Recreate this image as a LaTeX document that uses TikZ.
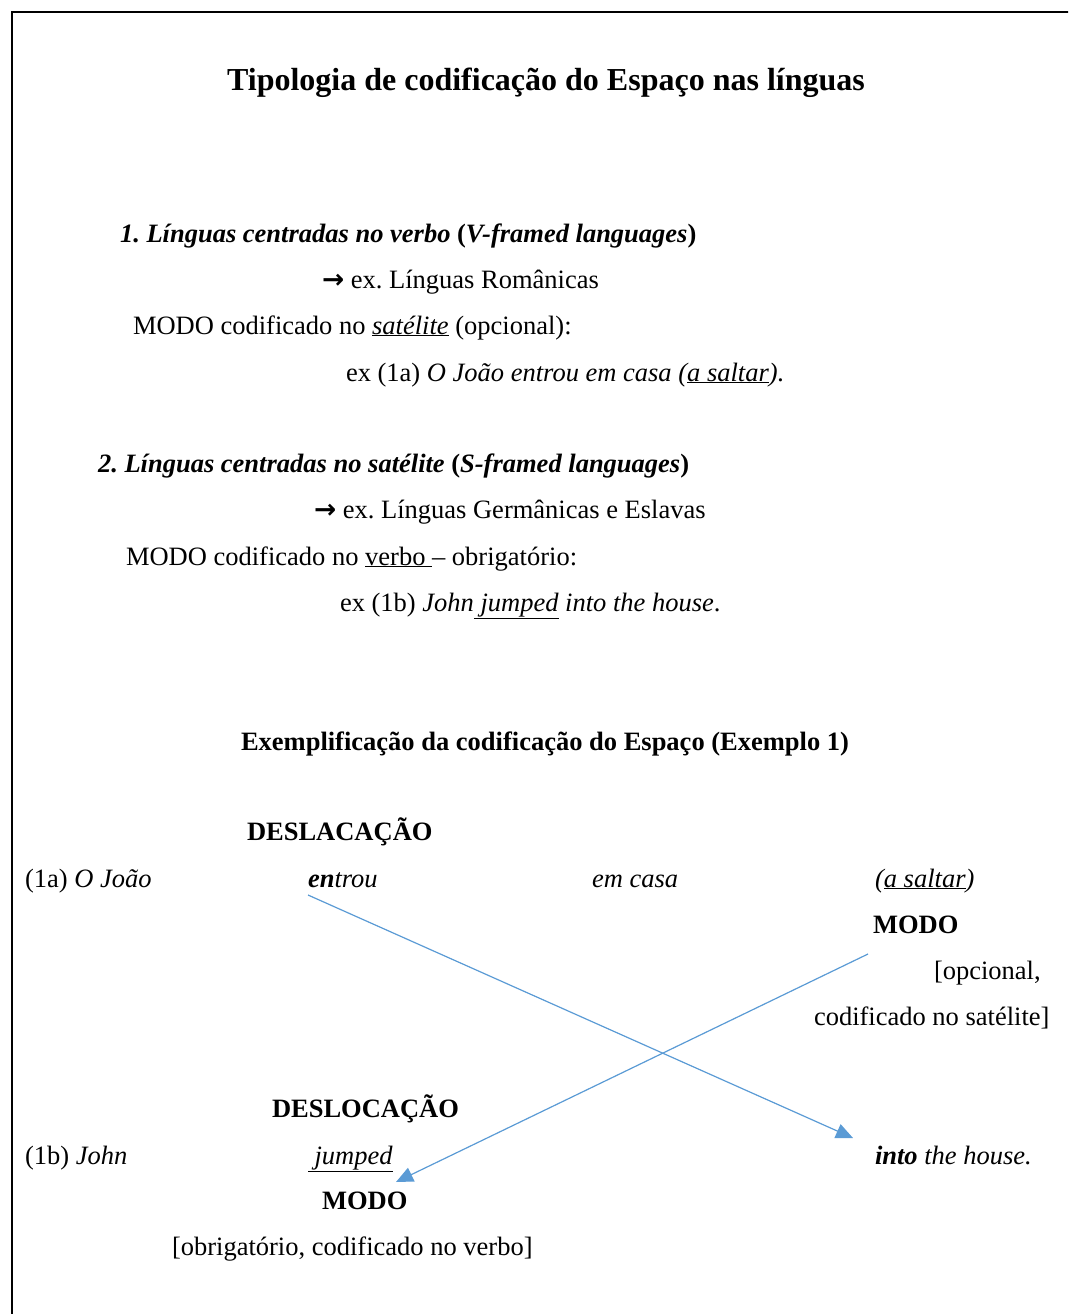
\documentclass[tikz,border=0pt]{standalone}
\usepackage{fontspec}
\setmainfont{Liberation Serif}
\newfontfamily\arrowfont{DejaVu Sans}
\usetikzlibrary{arrows.meta}
\definecolor{arrowblue}{HTML}{5B9BD5}
\tikzset{
  txt/.style={inner sep=0pt, outer sep=0pt, anchor=base west, font=\fontsize{26.5}{30}\selectfont},
  ctxt/.style={txt, anchor=base},
  boldtxt/.style={txt, font=\fontsize{26.5}{30}\selectfont\bfseries},
  titletxt/.style={ctxt, font=\fontsize{32}{36}\selectfont\bfseries},
  link/.style={draw=arrowblue, line width=1.2pt, -{Triangle[length=17pt,width=15pt]}, fill=arrowblue},
  frame/.style={draw=black, line width=2pt}
}
\newcommand{\myarrow}{{\arrowfont\bfseries →}}
\frenchspacing
\begin{document}
\frenchspacing
\begin{tikzpicture}[x=1pt,y=-1pt]
\useasboundingbox (0,0) rectangle (1068,1314);
\clip (0,0) rectangle (1068,1314);
\draw[frame] (12,12) rectangle (1090,1340);

\node[titletxt] (title) at (546,90) {Tipologia de codificação do Espaço nas línguas};

\node[txt] (l1) at (120,242) {\bfseries\itshape 1. Línguas centradas no verbo \upshape(\itshape V-framed languages\upshape)};
\node[txt] (l2) at (322,288) {\myarrow\ ex. Línguas Românicas};
\node[txt] (l3) at (133,334) {MODO codificado no \underline{\itshape satélite} (opcional):};
\node[txt] (l4) at (346,381) {ex (1a) \itshape O João entrou em casa (\underline{a saltar}).};

\node[txt] (l5) at (98,472) {\bfseries\itshape 2. Línguas centradas no satélite \upshape(\itshape S-framed languages\upshape)};
\node[txt] (l6) at (314,518) {\myarrow\ ex. Línguas Germânicas e Eslavas};
\node[txt] (l7) at (126,565) {MODO codificado no \underline{verbo\ }– obrigatório:};
\node[txt] (l8) at (340,611) {ex (1b) \itshape John\underline{\ jumped} into the house\upshape.};

\node[ctxt, font=\fontsize{26.5}{30}\selectfont\bfseries] (sub) at (545,750) {Exemplificação da codificação do Espaço (Exemplo 1)};

\node[boldtxt] (desl1) at (247,840) {DESLACAÇÃO};
\node[txt] (ex1a) at (25,887) {(1a) \itshape O João};
\node[txt] (entrou) at (308,887) {\itshape\bfseries en\mdseries trou};
\node[txt] (emcasa) at (592,887) {\itshape em casa};
\node[txt] (saltar) at (875,887) {\itshape(\underline{a saltar})};
\node[boldtxt] (modo1) at (873,933) {MODO};
\node[txt] (opc1) at (934,979) {[opcional,};
\node[txt] (opc2) at (814,1025) {codificado no satélite]};

\node[boldtxt] (desl2) at (272,1117) {DESLOCAÇÃO};
\node[txt] (ex1b) at (25,1164) {(1b) \itshape John};
\node[txt] (jumped) at (308,1164) {\itshape\underline{\ jumped}};
\node[txt] (into) at (875,1164) {\itshape\bfseries into \mdseries the house.};
\node[boldtxt] (modo2) at (322,1209) {MODO};
\node[txt] (obr) at (172,1255) {[obrigatório, codificado no verbo]};

\coordinate (s1) at (308,895);
\coordinate (e1) at (853,1138);
\coordinate (s2) at (868,954);
\coordinate (e2) at (396,1182);
\draw[link] (s1) -- (e1);
\draw[link] (s2) -- (e2);
\end{tikzpicture}
\end{document}
